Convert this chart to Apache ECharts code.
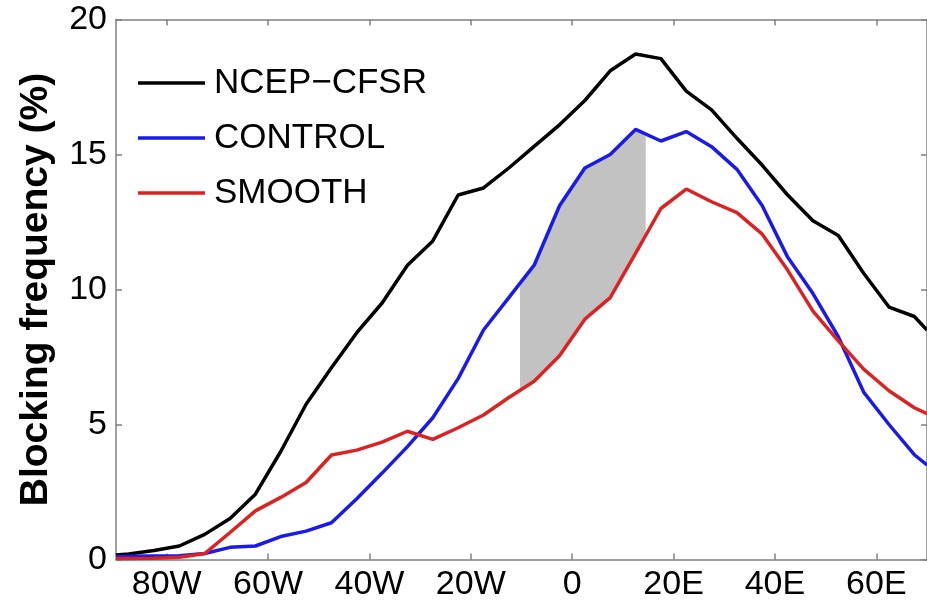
<!DOCTYPE html>
<html>
<head>
<meta charset="utf-8">
<title>Blocking frequency</title>
<script src="https://cdn.jsdelivr.net/npm/echarts@6/dist/echarts.min.js"></script>
<style>
  html, body { margin: 0; padding: 0; background: #ffffff; }
  #chart { width: 927px; height: 603px; }
</style>
</head>
<body>
<div id="chart"></div>
<script>
// Longitude grid (degrees, negative = west)
const lon = [-90, -87.5, -82.5, -77.5, -72.5, -67.5, -62.5, -57.5, -52.5, -47.5,
  -42.5, -37.5, -32.5, -27.5, -22.5, -17.5, -12.5, -7.5, -2.5, 2.5,
  7.5, 12.5, 17.5, 22.5, 27.5, 32.5, 37.5, 42.5, 47.5, 52.5,
  57.5, 62.5, 67.5, 70];

// Blocking frequency (%)
const ncepCfsr = [0.17, 0.2, 0.33, 0.5, 0.93, 1.52, 2.42, 4.0, 5.75, 7.1,
  8.4, 9.5, 10.9, 11.8, 13.5, 13.76, 14.5, 15.3, 16.1, 17.0,
  18.1, 18.72, 18.55, 17.35, 16.65, 15.6, 14.6, 13.5, 12.55, 12.0,
  10.6, 9.35, 9.0, 8.5];
const control = [0.1, 0.12, 0.13, 0.14, 0.22, 0.45, 0.5, 0.85, 1.05, 1.36,
  2.25, 3.2, 4.18, 5.25, 6.7, 8.5, 9.7, 10.9, 13.1, 14.5,
  15.0, 15.93, 15.5, 15.85, 15.29, 14.45, 13.1, 11.2, 9.85, 8.25,
  6.2, 5.0, 3.88, 3.5];
const smooth = [0.04, 0.04, 0.05, 0.08, 0.22, 1.0, 1.8, 2.3, 2.85, 3.87,
  4.05, 4.35, 4.75, 4.45, 4.88, 5.35, 6.0, 6.6, 7.55, 8.9,
  9.7, 11.34, 13.0, 13.72, 13.25, 12.85, 12.05, 10.72, 9.2, 8.1,
  7.05, 6.25, 5.62, 5.4];

// Significant-difference band between CONTROL and SMOOTH
const shadeLon = [-10.3, -7.5, -2.5, 2.5, 7.5, 12.5, 14.5];
const shadeTop = [10.1, 10.9, 13.1, 14.5, 15.0, 15.93, 15.7];
const shadeBottom = [6.2, 6.6, 7.55, 8.9, 9.7, 11.34, 12.0];

// Axis ticks
const xTicks = [-80, -60, -40, -20, 0, 20, 40, 60];

const seriesNames = ['NCEP\u2212CFSR', 'CONTROL', 'SMOOTH'];
const seriesColors = ['#000000', '#1a1aee', '#dd2222'];

const pairs = (xs, ys) => xs.map((x, i) => [x, ys[i]]);
const lonLabel = v => v < 0 ? (-v) + 'W' : (v > 0 ? v + 'E' : '0');

const axisGray = '#808080';
const font = 'Liberation Sans, Arial, Helvetica, sans-serif';
const lineW = 3.5;

const chart = echarts.init(document.getElementById('chart'), null, { renderer: 'canvas' });

const lineSeries = [ncepCfsr, control, smooth].map((vals, i) => ({
  name: seriesNames[i],
  type: 'line',
  data: pairs(lon, vals),
  symbol: 'none',
  clip: true,
  color: seriesColors[i],
  itemStyle: { color: seriesColors[i] },
  lineStyle: { color: seriesColors[i], width: lineW }
}));

chart.setOption({
  animation: false,
  backgroundColor: '#ffffff',
  grid: { left: 116, right: -6, top: 19.5, bottom: 43.5, containLabel: false },
  legend: {
    orient: 'vertical',
    left: 138,
    top: 65.5,
    padding: 0,
    icon: 'rect',
    itemWidth: 67,
    itemHeight: 3.5,
    itemGap: 20,
    data: seriesNames,
    selectedMode: false,
    textStyle: { fontFamily: font, fontSize: 35, lineHeight: 35, color: '#000', padding: [0, 0, 0, 4] }
  },
  xAxis: [{
    type: 'value',
    min: -90, max: 70, interval: 10,
    position: 'bottom',
    axisLine: { show: true, onZero: false, lineStyle: { color: axisGray, width: 1.5 } },
    axisTick: { show: true, inside: true, length: 6, customValues: xTicks, lineStyle: { color: axisGray, width: 1.5 } },
    axisLabel: { customValues: xTicks, formatter: lonLabel, fontFamily: font, fontSize: 34, color: '#000', margin: 8 },
    splitLine: { show: false }
  }, {
    type: 'value',
    min: -90, max: 70, interval: 10,
    position: 'top',
    axisLine: { show: true, onZero: false, lineStyle: { color: axisGray, width: 1.5 } },
    axisTick: { show: true, inside: true, length: 6, customValues: xTicks, lineStyle: { color: axisGray, width: 1.5 } },
    axisLabel: { show: false },
    splitLine: { show: false }
  }],
  yAxis: [{
    type: 'value',
    min: 0, max: 20, interval: 5,
    position: 'left',
    name: 'Blocking frequency (%)',
    nameLocation: 'middle',
    nameGap: 60,
    nameRotate: 90,
    nameTextStyle: { fontFamily: font, fontSize: 39, fontWeight: 'bold', color: '#000' },
    axisLine: { show: true, onZero: false, lineStyle: { color: axisGray, width: 1.5 } },
    axisTick: { show: true, inside: true, length: 6, lineStyle: { color: axisGray, width: 1.5 } },
    axisLabel: { fontFamily: font, fontSize: 34, color: '#000', margin: 9 },
    splitLine: { show: false }
  }, {
    type: 'value',
    min: 0, max: 20, interval: 5,
    position: 'right',
    axisLine: { show: true, onZero: false, lineStyle: { color: axisGray, width: 1.5 } },
    axisTick: { show: true, inside: true, length: 6, lineStyle: { color: axisGray, width: 1.5 } },
    axisLabel: { show: false },
    splitLine: { show: false }
  }],
  series: [{
    name: 'band',
    type: 'custom',
    clip: true,
    silent: true,
    data: [[shadeLon[0], shadeBottom[0]]],
    renderItem: (params, api) => {
      const top = shadeLon.map((x, i) => api.coord([x, shadeTop[i]]));
      const bottom = shadeLon.map((x, i) => api.coord([x, shadeBottom[i]])).reverse();
      return {
        type: 'polygon',
        shape: { points: top.concat(bottom) },
        style: { fill: '#c2c2c2', stroke: null }
      };
    }
  }].concat(lineSeries)
});
</script>
</body>
</html>
